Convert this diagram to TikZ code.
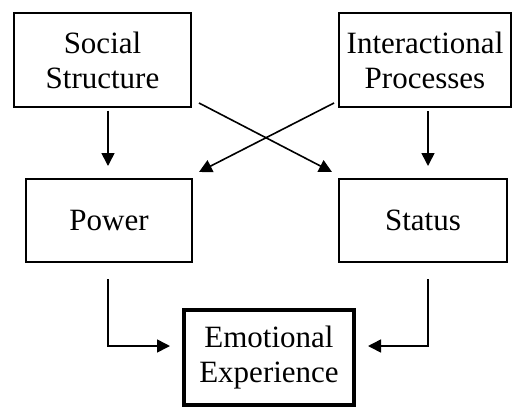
\documentclass[tikz,border=0pt]{standalone}
\usepackage{fontspec}
\setmainfont{Liberation Serif}
\usetikzlibrary{arrows.meta,calc}
\begin{document}
\begin{tikzpicture}[x=0.5pt,y=-0.5pt,
  box/.style={draw,line width=1pt,align=center,inner sep=0pt,
    font=\fontsize{15.5}{17.5}\selectfont},
  conn/.style={line width=0.8pt,-{Triangle[length=6.5pt,width=6.5pt]}}]
\useasboundingbox (0,0) rectangle (512,407);
\node[box,minimum width=88.5pt,minimum height=47pt] (soc) at (102.5,60) {Social\\Structure};
\node[box,minimum width=86pt,minimum height=47pt] (int) at (425,60) {Interactional\\Processes};
\node[box,minimum width=83pt,minimum height=41.5pt] (pow) at (109,220.5) {Power};
\node[box,minimum width=84pt,minimum height=41.5pt] (sta) at (423,220.5) {Status};
\node[box,line width=2pt,minimum width=85pt,minimum height=47.5pt] (emo) at (269,357.5) {Emotional\\Experience};
% vertical arrows
\draw[conn] ($(soc.south)+(5.5,2.5)$) -- ($(pow.north)+(-1,-12)$);
\draw[conn] ($(int.south)+(3,3)$) -- ($(sta.north)+(5,-12)$);
% crossing arrows
\coordinate (sx) at ($(soc.south east)+(7,-5)$);
\coordinate (sy) at ($(sta.north west)+(-6,-6)$);
\coordinate (ix) at ($(int.south west)+(-4,-5)$);
\coordinate (iy) at ($(pow.north east)+(6,-6)$);
\draw[conn] (sx) -- (sy);
\draw[conn] (ix) -- (iy);
% lower elbow arrows
\coordinate (p1) at ($(pow.south)+(-1,16)$);
\coordinate (t1) at ($(sta.south)+(5,16)$);
\draw[conn] (p1) |- ($(emo.west)+(-12,-11.5)$);
\draw[conn] (t1) |- ($(emo.east)+(12,-11.5)$);
\end{tikzpicture}
\end{document}
